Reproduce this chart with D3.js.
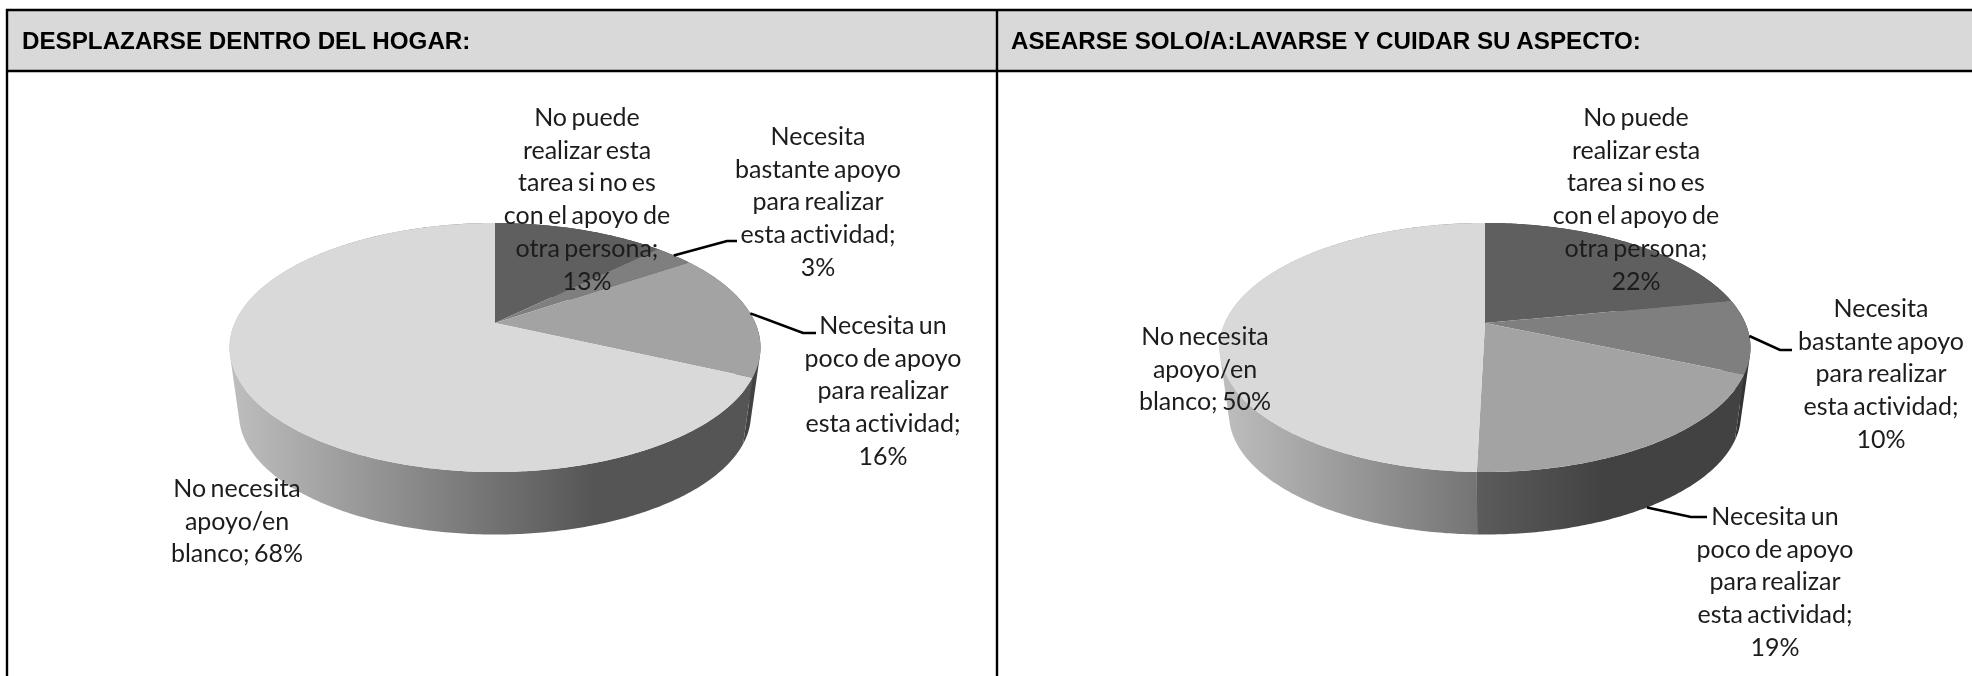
<!DOCTYPE html>
<html><head><meta charset="utf-8">
<script src="https://cdnjs.cloudflare.com/ajax/libs/d3/7.9.0/d3.min.js"></script>
<style>html,body{margin:0;padding:0;background:#fff;overflow:hidden}svg{display:block}text{font-variant-ligatures:none}</style>
</head><body><svg id="c" width="1972" height="676"></svg>
<script>
// ---------- data ----------
const titles = ["DESPLAZARSE DENTRO DEL HOGAR:", "ASEARSE SOLO/A:LAVARSE Y CUIDAR SU ASPECTO:"];
const categories = [
  "No puede realizar esta tarea si no es con el apoyo de otra persona",
  "Necesita bastante apoyo para realizar esta actividad",
  "Necesita un poco de apoyo para realizar esta actividad",
  "No necesita apoyo/en blanco"
];
const labelLines = [
  ["No puede","realizar esta","tarea si no es","con el apoyo de","otra persona;"],
  ["Necesita","bastante apoyo","para realizar","esta actividad;"],
  ["Necesita un","poco de apoyo","para realizar","esta actividad;"],
  ["No necesita","apoyo/en"]
];
const hogarValues = [12.6, 2.9, 16.4, 68.1];
const aseoValues  = [21.9, 9.6, 18.9, 49.6];
const topGreys = ["#5f5f5f", "#7f7f7f", "#a3a3a3", "#d9d9d9"];

// ---------- layout ----------
const svg = d3.select("#c"), defs = svg.append("defs");
const FONT = "Lato, 'Noto Sans', sans-serif";
const apexY = 323, rimTop = 223, rimBottom = 472, rimRx = 265.5, midY = 347.5;
const persp = 0.1968, depthY = 414.5, depthScale = 0.964;
const perspA = rimTop * (1 + persp) - apexY;
const perspR = rimRx * Math.sqrt(1 - persp * persp);

const panels = [
  { cx: 495, values: hogarValues, title: titles[0], titleX: 22,
    labels: [
      { x: 587, y: 117 }, { x: 818, y: 136, elbow: [727, 241], end: 737 },
      { x: 883, y: 325, elbow: [803, 333], end: 816 }, { x: 237, y: 488, lastSameLine: true }
    ] },
  { cx: 1485, values: aseoValues, title: titles[1], titleX: 1011,
    labels: [
      { x: 1636, y: 117 }, { x: 1881, y: 308, elbow: [1780, 350], end: 1792 },
      { x: 1775, y: 516, elbow: [1691, 517], end: 1707, fromBase: true }, { x: 1205, y: 336, lastSameLine: true }
    ] }
];

const rim = (cx, a) => {
  const u = Math.sin(a), v = Math.cos(a), d = 1 + persp * v;
  return [cx + perspR * u / d, (perspA * v + apexY) / d];
};
const base = (cx, a) => {
  const p = rim(cx, a);
  return [cx + depthScale * (p[0] - cx), depthY + depthScale * (p[1] - midY)];
};
const line = d3.line();
const pie = d3.pie().sort(null).startAngle(0).endAngle(2 * Math.PI);

// ---------- frame ----------
svg.append("rect").attr("x", 7).attr("y", 10).attr("width", 1965).attr("height", 61).attr("fill", "#d9d9d9");

const charts = svg.append("g").style("filter", "blur(0.45px)");

panels.forEach((panel, pi) => {
  const { cx } = panel, g = charts.append("g");
  const arcs = pie(panel.values);

  // wall gradients (light side → dark side)
  const lightId = `wallLight${pi}`, darkId = `wallDark${pi}`;
  const gl = defs.append("linearGradient").attr("id", lightId).attr("gradientUnits", "userSpaceOnUse")
    .attr("x1", cx - 260).attr("x2", cx + 100).attr("y1", 0).attr("y2", 0);
  gl.append("stop").attr("offset", 0).attr("stop-color", "#bdbdbd");
  gl.append("stop").attr("offset", 1).attr("stop-color", "#555555");
  const gd = defs.append("linearGradient").attr("id", darkId).attr("gradientUnits", "userSpaceOnUse")
    .attr("x1", cx - 10).attr("x2", cx + 120).attr("y1", 0).attr("y2", 0);
  gd.append("stop").attr("offset", 0).attr("stop-color", "#5c5c5c");
  gd.append("stop").attr("offset", 1).attr("stop-color", "#424242");
  const wallFill = [ "#333333", "#333333", `url(#${darkId})`, `url(#${lightId})` ];

  // walls: thin quads with uniform winding
  arcs.forEach((d, i) => {
    const n = Math.max(4, Math.ceil((d.endAngle - d.startAngle) * 90));
    const steps = d3.range(n).map(k => d.startAngle + (d.endAngle - d.startAngle) * k / n);
    const h = (d.endAngle - d.startAngle) / n;
    const path = steps.map(a => {
      let q = [rim(cx, a), rim(cx, a + h), base(cx, a + h), base(cx, a)];
      if (d3.polygonArea(q) < 0) q = q.reverse();
      return line(q) + "Z";
    }).join("");
    g.append("path").attr("d", path).attr("fill", wallFill[i]);
  });

  // top faces
  arcs.forEach((d, i) => {
    const n = Math.max(8, Math.ceil((d.endAngle - d.startAngle) * 60));
    const pts = [[cx, apexY]].concat(d3.range(n + 1).map(k =>
      rim(cx, d.startAngle + (d.endAngle - d.startAngle) * k / n)));
    g.append("path").attr("d", line(pts) + "Z").attr("fill", topGreys[i]);
  });

  // leader lines
  panel.labels.forEach((lab, i) => {
    if (!lab.elbow) return;
    const mid = (arcs[i].startAngle + arcs[i].endAngle) / 2;
    const s = lab.fromBase ? base(cx, mid) : rim(cx, mid);
    g.append("path").attr("d", line([s, lab.elbow, [lab.end, lab.elbow[1]]]))
      .attr("fill", "none").attr("stroke", "#000").attr("stroke-width", 2.6);
  });

  // labels
  panel.labels.forEach((lab, i) => {
    const pct = d3.format(".0f")(panel.values[i]) + "%";
    const lines = lab.lastSameLine
      ? [labelLines[i][0], labelLines[i][1], "blanco; " + pct]
      : labelLines[i].concat(pct);
    const t = g.append("text").attr("text-anchor", "middle")
      .attr("font-family", FONT).attr("font-size", 25).attr("word-spacing", -2).attr("fill", "#1c1c1c");
    lines.forEach((l, k) => t.append("tspan").attr("x", lab.x).attr("y", lab.y + 9 + k * 32.7).text(l));
  });

  // title
  g.append("text").attr("x", panel.titleX).attr("y", 48.7)
    .attr("font-family", "'Liberation Sans', Arial, sans-serif").attr("font-weight", 700)
    .attr("font-size", 24.2).attr("fill", "#000").text(panel.title);
});

// black rules
const rules = [[6, 10, 1972, 10], [6, 71, 1972, 71], [7, 9, 7, 676], [997, 10, 997, 676]];
svg.append("g").selectAll("line").data(rules).join("line")
  .attr("x1", d => d[0]).attr("y1", d => d[1]).attr("x2", d => d[2]).attr("y2", d => d[3])
  .attr("stroke", "#000").attr("stroke-width", 2.4);
</script></body></html>
